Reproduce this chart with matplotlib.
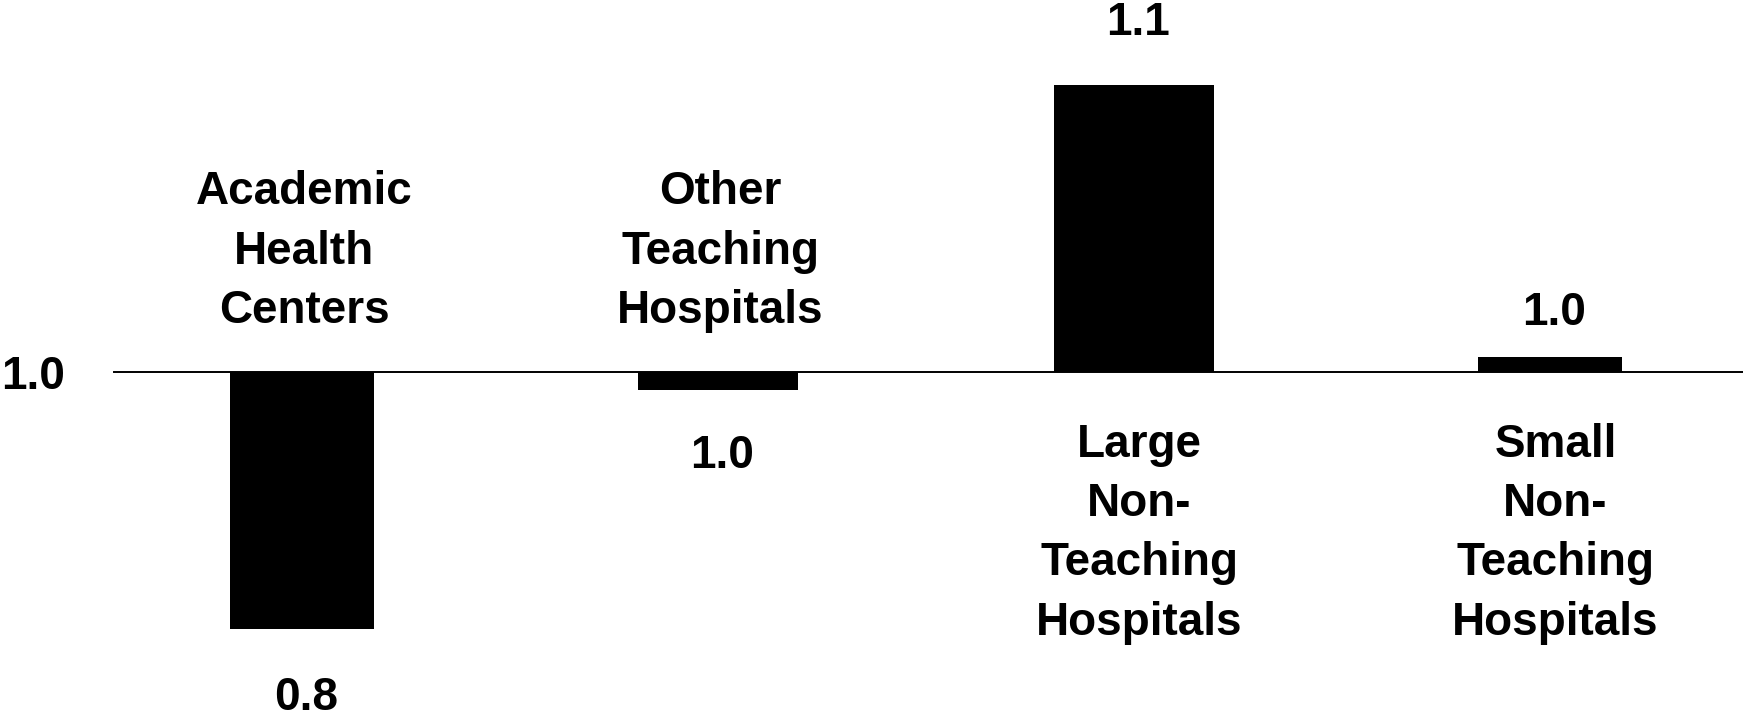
import matplotlib.pyplot as plt

# hospital groups, relative index (baseline = 1.0)
groups = ["Academic\nHealth\nCenters",
          "Other\nTeaching\nHospitals",
          "Large\nNon-\nTeaching\nHospitals",
          "Small\nNon-\nTeaching\nHospitals"]
values = [0.80, 0.986, 1.224, 1.012]
value_labels = ["0.8", "1.0", "1.1", "1.0"]
baseline = 1.0
baseline_label = "1.0"

plt.rcParams['font.family'] = ['Liberation Sans', 'DejaVu Sans']

fig = plt.figure(figsize=(17.43, 7.18), dpi=100)
ax = fig.add_axes([0, 0, 1, 1])
ax.set_axis_off()

x = list(range(len(values)))
widths = [0.346, 0.385, 0.385, 0.346]
heights = [v - baseline for v in values]

ax.axhline(baseline, xmin=0.0654, xmax=1, color='black', lw=1.4, zorder=1)
ax.bar(x, heights, bottom=baseline, width=widths, color='black', zorder=2)

ax.set_xlim(-0.7248, 3.464)
ax.set_ylim(0.7306, 1.2904)

fs = 33
# value labels at the bar ends, offsets in points
val_off = [50, 47, 45, 32]
for i, v in enumerate(values):
    if v < baseline:
        ax.annotate(value_labels[i], (x[i], v), xytext=(3, -val_off[i]),
                    textcoords='offset points', ha='center', va='center',
                    fontsize=fs, fontweight='bold')
    else:
        ax.annotate(value_labels[i], (x[i], v), xytext=(3, val_off[i]),
                    textcoords='offset points', ha='center', va='center',
                    fontsize=fs, fontweight='bold')

# category labels on the opposite side of the baseline
for i, v in enumerate(values):
    if v < baseline:
        ax.annotate(groups[i], (x[i], baseline), xytext=(2, 87),
                    textcoords='offset points', ha='center', va='center',
                    fontsize=fs, fontweight='bold', linespacing=1.45)
    else:
        ax.annotate(groups[i], (x[i], baseline), xytext=(4, -116),
                    textcoords='offset points', ha='center', va='center',
                    fontsize=fs, fontweight='bold', linespacing=1.45)

ax.text(0.019, baseline, baseline_label, transform=ax.get_yaxis_transform(),
        ha='center', va='center_baseline', fontsize=fs, fontweight='bold')

fig.savefig('out.png', dpi=100, facecolor='white')
